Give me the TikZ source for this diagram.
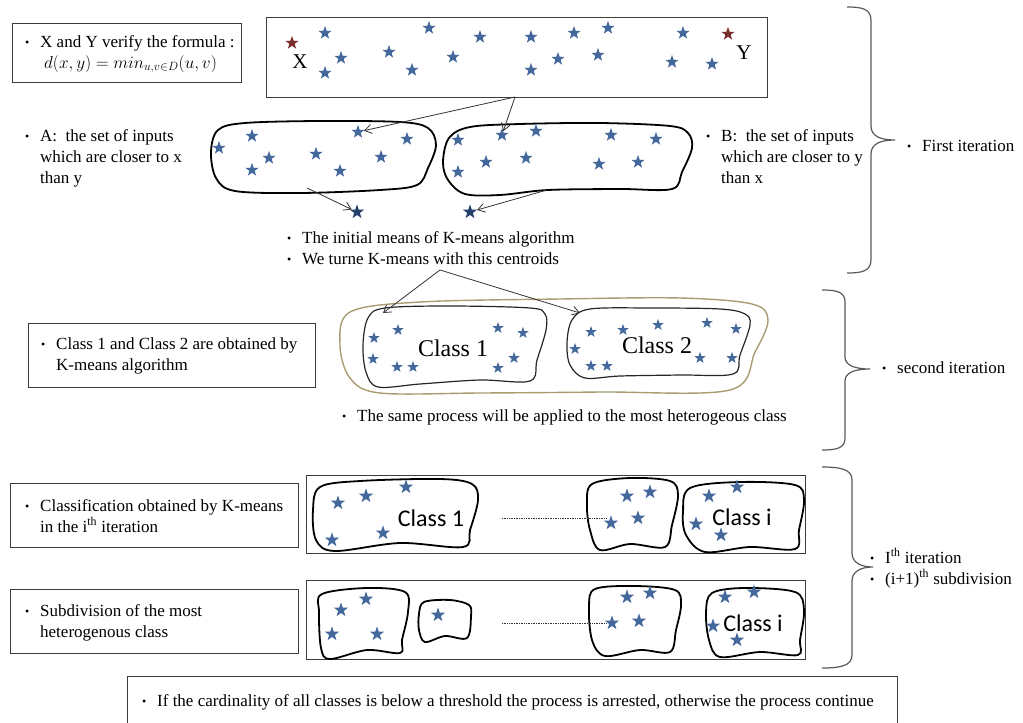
\documentclass[tikz,border=0pt]{standalone}
\usepackage{fontspec}
\setmainfont{Liberation Serif}
\newfontfamily\calib{Carlito}
\usetikzlibrary{shapes.geometric,arrows.meta}
\definecolor{starblue}{HTML}{44689C}
\definecolor{stardark}{HTML}{23406B}
\definecolor{starred}{HTML}{7A2E2E}
\definecolor{khakiline}{HTML}{A89C70}
\definecolor{boxline}{HTML}{3C3C3C}
\newcommand\bul{\makebox[15pt][l]{\fontsize{12}{12}\selectfont\raisebox{0.5pt}{•}}}
\begin{document}
\begin{tikzpicture}[x=1pt,y=-1pt,
  bstar/.style={star,star points=5,star point ratio=2.5,fill=starblue,draw=none,inner sep=0pt,minimum size=#1},
  bstar/.default=14pt,
  rstar/.style={bstar=14pt,fill=starred},
  dstar/.style={bstar=15pt,fill=stardark},
  txt/.style={inner sep=0pt,anchor=base west,font=\fontsize{17}{21}\selectfont},
  boxs/.style={draw=boxline,line width=1.1pt,rectangle,inner sep=0pt,anchor=north west},
  blob/.style={draw=black,line width=1.8pt,line join=round},
  thinblob/.style={draw=black!85,line width=1.2pt,line join=round},
  outerblob/.style={draw=khakiline,line width=1.4pt},
  arr/.style={draw=black!80,line width=0.8pt,-{Straight Barb[length=7pt,width=9pt]}},
  brc/.style={draw=black!65,line width=1.2pt},
  dots/.style={draw=black!80,line width=0.7pt,densely dotted},
  cls/.style={inner sep=0pt,font=\fontsize{24}{24}\selectfont},
  clsc/.style={inner sep=0pt,font=\calib\fontsize{24}{24}\selectfont}
]
\clip (0,0) rectangle (1023,723);

% ---------- first iteration ----------
\node[boxs,minimum width=229pt,minimum height=59pt] (b1) at (12,23) {};
\node[txt] (t1) at (25,47) {\bul X and Y verify the formula :};
\node[txt] (t1b) at (44,68) {$d(x,y)=min_{u,v\in D}(u,v)$};

\node[boxs,minimum width=501pt,minimum height=80pt] (strip) at (266,17) {};
\foreach \x/\y [count=\i] in {325/33,325/73,341/58,389/52,412/70,429/28,453/57,480/37,531/37,531/70,558/59,574/33,598/55,608/28,683/33,672/62,712/64}
  \node[bstar] (s\i) at (\x,\y) {};
\node[rstar] (sx) at (292,43) {};
\node[rstar] (sy) at (728,34) {};
\node[inner sep=0pt,font=\fontsize{21}{21}\selectfont] (lx) at (300,62) {X};
\node[inner sep=0pt,font=\fontsize{21}{21}\selectfont] (ly) at (744,53) {Y};

% blob A
\draw[blob] plot[smooth cycle,tension=0.55] coordinates {(211,152) (218,130) (245,123) (320,121) (400,122) (428,128) (436,145) (428,168) (417,185) (380,190) (300,193) (235,191) (216,178)};
\foreach \x/\y [count=\i] in {219/148,252/136,252/170,269/158,316/154,340/171,358/132,381/157,407/139}
  \node[bstar] (a\i) at (\x,\y) {};
% blob B
\draw[blob] plot[smooth cycle,tension=0.55] coordinates {(443,162) (449,138) (470,127) (520,124) (600,123) (670,126) (688,133) (692,148) (682,172) (672,189) (620,189) (548,190) (500,195) (465,194) (448,180)};
\foreach \x/\y [count=\i] in {458/140,502/135,536/131,611/135,656/139,486/162,526/158,599/164,638/162,458/172}
  \node[bstar] (b\i) at (\x,\y) {};

\coordinate (sb) at (515,97);
\draw[arr] (sb) -- (a7);
\draw[arr] (sb) -- (b2);

\node[dstar] (ca) at (357,212) {};
\node[dstar] (cb) at (470,212) {};
\coordinate (abot) at (307,188);
\coordinate (bbot) at (547,190);
\draw[arr] (abot) -- (ca);
\draw[arr] (bbot) -- (cb);

\node[txt] (tA) at (25,141) {\begin{tabular}[t]{@{}l@{}l@{}}\bul&A:\ \ the set of inputs\\&which are closer to x\\&than y\end{tabular}};
\node[txt] (tB) at (706,141) {\begin{tabular}[t]{@{}l@{}l@{}}\bul&B:\ \ the set of inputs\\&which are closer to y\\&than x\end{tabular}};
\node[txt] (tM) at (287,243) {\begin{tabular}[t]{@{}l@{}l@{}}\bul&The initial\ means of K-means algorithm\\\bul&We turne K-means with this centroids\end{tabular}};

% brace 1
\draw[brc] (847,7) .. controls (863,7) and (871,9) .. (871,21) -- (871,126)
  .. controls (871,136) and (880,140) .. (895,140)
  .. controls (880,140) and (871,144) .. (871,154) -- (871,259)
  .. controls (871,271) and (863,273) .. (847,273);
\coordinate (br1) at (895,140);
\node[txt] (tF) at (907,151) {\bul First iteration};

% ---------- second iteration ----------
\coordinate (apex) at (440,270);
\draw[outerblob] plot[smooth cycle,tension=0.55] coordinates {(340,345) (350,312) (420,302) (560,299) (680,298) (752,304) (768,320) (755,352) (730,390) (600,392) (480,393) (380,393) (350,378)};
\draw[thinblob] plot[smooth cycle,tension=0.55] coordinates {(363,345) (368,318) (385,308) (450,306) (530,308) (545,314) (546,330) (537,360) (530,381) (480,380) (420,384) (378,387) (366,372)};
\draw[thinblob] plot[smooth cycle,tension=0.55] coordinates {(567,343) (572,320) (590,309) (650,308) (720,309) (745,314) (750,325) (740,355) (733,374) (680,375) (620,376) (585,378) (570,365)};
\foreach \x/\y [count=\i] in {374/338,398/330,373/359,397/367,413/367,498/328,523/333,514/358,498/368}
  \node[bstar=12pt] (c\i) at (\x,\y) {};
\foreach \x/\y [count=\i] in {591/332,575/349,591/366,607/366,623/330,658/325,707/323,736/329,700/358,732/358}
  \node[bstar=12pt] (d\i) at (\x,\y) {};
\node[cls] (cl1) at (453,348) {Class 1};
\node[cls] (cl2) at (657,345) {Class 2};
\coordinate (c1top) at (383,313);
\coordinate (c2top) at (580,313);
\draw[arr] (apex) -- (c1top);
\draw[arr] (apex) -- (c2top);

\node[boxs,minimum width=287pt,minimum height=64pt] (b2) at (28,323) {};
\node[txt] (tC) at (41,349) {\begin{tabular}[t]{@{}l@{}l@{}}\bul&Class 1\ and Class 2 are obtained by\\&K-means algorithm\end{tabular}};
\node[txt] (tS) at (342,421) {\bul The same process will be applied to the most heterogeous class};

% brace 2
\draw[brc] (822,290) .. controls (837,290) and (845,292) .. (845,302) -- (845,357)
  .. controls (845,365) and (854,369) .. (870,369)
  .. controls (854,369) and (845,373) .. (845,381) -- (845,438)
  .. controls (845,448) and (837,450) .. (822,450);
\coordinate (br2) at (870,369);
\node[txt] (tSe) at (882,373) {\bul second iteration};

% ---------- i-th iteration ----------
\node[boxs,minimum width=288pt,minimum height=64pt] (b3) at (10,483) {};
\node[txt] (tCl) at (25,511) {\begin{tabular}[t]{@{}l@{}l@{}}\bul&Classification obtained by K-means\\&in the i\textsuperscript{th} iteration\end{tabular}};
\node[boxs,minimum width=288pt,minimum height=64pt] (b4) at (10,589) {};
\node[txt] (tSu) at (25,616) {\begin{tabular}[t]{@{}l@{}l@{}}\bul&Subdivision of the most\\&heterogenous class\end{tabular}};

\node[boxs,minimum width=499pt,minimum height=78pt] (r1) at (306,475) {};
\node[boxs,minimum width=499pt,minimum height=79pt] (r2) at (306,580) {};

% row 1 blobs
\draw[blob] plot[smooth cycle,tension=0.55] coordinates {(313,510) (320,487) (360,481) (440,479) (472,484) (478,500) (470,530) (463,547) (400,543) (335,551) (316,540)};
\draw[blob] plot[smooth cycle,tension=0.55] coordinates {(587,505) (592,484) (630,478) (670,481) (678,495) (672,525) (665,547) (630,544) (600,550) (590,530)};
\draw[blob] plot[smooth cycle,tension=0.55] coordinates {(683,512) (690,488) (740,482) (795,485) (804,500) (799,530) (795,549) (750,547) (705,552) (686,535)};
\foreach \x/\y [count=\i] in {338/503,366/496,406/487,332/540,383/533}
  \node[bstar=15pt] (e\i) at (\x,\y) {};
\foreach \x/\y [count=\i] in {627/496,650/492,611/523,638/518}
  \node[bstar=15pt] (f\i) at (\x,\y) {};
\foreach \x/\y [count=\i] in {709/496,737/487,696/524,721/535}
  \node[bstar=15pt] (g\i) at (\x,\y) {};
\node[clsc] (ci1) at (431,518) {Class 1};
\node[clsc] (cii1) at (742,517) {Class i};
\coordinate (d1s) at (502,518);
\coordinate (d1e) at (606,518);
\draw[dots] (d1s) -- (d1e);

% row 2 blobs
\draw[blob] plot[smooth cycle,tension=0.55] coordinates {(319,612) (322,594) (367,588) (405,592) (408,612) (402,640) (400,653) (367,650) (330,659) (321,648)};
\draw[blob] plot[smooth cycle,tension=0.55] coordinates {(419,614) (424,602) (450,600) (469,605) (471,616) (467,638) (445,636) (425,642) (419,630)};
\draw[blob] plot[smooth cycle,tension=0.55] coordinates {(589,607) (595,589) (635,586) (675,590) (681,605) (676,630) (670,652) (640,650) (605,656) (592,640)};
\draw[blob] plot[smooth cycle,tension=0.55] coordinates {(706,612) (712,593) (745,588) (795,592) (804,610) (800,640) (798,655) (760,652) (720,657) (709,640)};
\foreach \x/\y [count=\i] in {341/610,366/599,332/634,377/634}
  \node[bstar=15pt] (h\i) at (\x,\y) {};
\node[bstar=15pt] (h5) at (438,615) {};
\foreach \x/\y [count=\i] in {627/597,650/593,612/623,639/621}
  \node[bstar=15pt] (k\i) at (\x,\y) {};
\foreach \x/\y [count=\i] in {725/597,754/592,713/626,737/640}
  \node[bstar=15pt] (m\i) at (\x,\y) {};
\node[clsc] (cii2) at (753,623) {Class i};
\coordinate (d2s) at (502,623);
\coordinate (d2e) at (606,623);
\draw[dots] (d2s) -- (d2e);

% brace 3
\draw[brc] (822,467) .. controls (840,467) and (852,469) .. (852,480) -- (852,553)
  .. controls (852,562) and (860,567) .. (873,567)
  .. controls (860,567) and (852,572) .. (852,581) -- (852,655)
  .. controls (852,666) and (840,668) .. (822,668);
\coordinate (br3) at (873,567);
\node[txt] (tI) at (870,563) {\begin{tabular}[t]{@{}l@{}l@{}}\bul&I\textsuperscript{th} iteration\\\bul&(i+1)\textsuperscript{th} subdivision\end{tabular}};

% ---------- bottom ----------
\node[boxs,minimum width=770pt,minimum height=80pt] (b5) at (127,676) {};
\node[txt] (tL) at (142,706) {\bul If the cardinality of all\ classes is below a threshold the process is arrested, otherwise the process continue};
\end{tikzpicture}
\end{document}
